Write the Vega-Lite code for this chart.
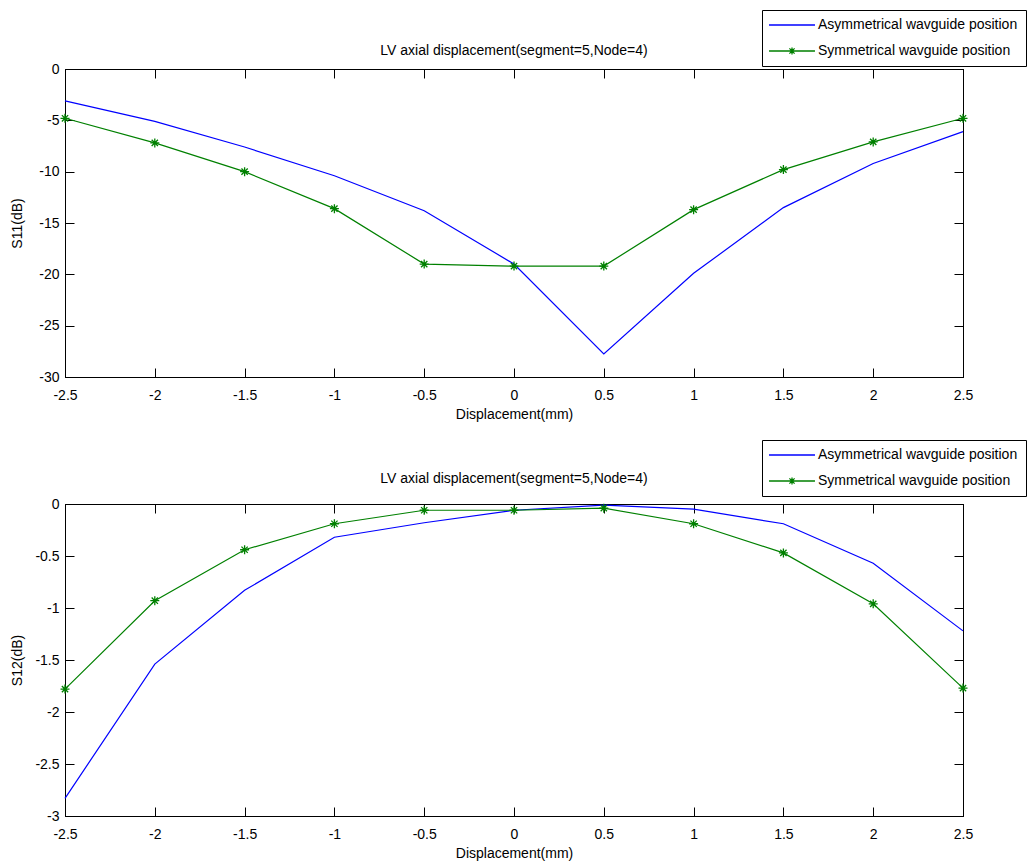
{
  "$schema": "https://vega.github.io/schema/vega-lite/v6.json",
  "padding": {"left": 10, "top": 9, "right": 0, "bottom": 0},
  "background": "white",
  "bounds": "flush",
  "spacing": 127,
  "resolve": {"scale": {"color": "independent"}, "legend": {"color": "independent"}},
  "config": {
    "font": "Liberation Sans",
    "view": {"stroke": "black", "strokeWidth": 1},
    "axis": {"grid": false, "domainColor": "black", "tickColor": "black", "labelColor": "black", "titleColor": "black", "labelFontSize": 14, "titleFontSize": 14, "titleFontWeight": "normal", "tickSize": -9, "labelFont": "Liberation Sans", "titleFont": "Liberation Sans"},
    "title": {"fontSize": 14, "fontWeight": "normal", "color": "black", "font": "Liberation Sans"},
    "legend": {"labelFontSize": 14, "labelColor": "black", "labelFont": "Liberation Sans", "labelLimit": 0}
  },
  "datasets": {
    "vals": [
      {"d": -2.5, "series": "Asymmetrical wavguide position", "S11": -3.1, "S12": -2.83},
      {"d": -2.0, "series": "Asymmetrical wavguide position", "S11": -5.1, "S12": -1.54},
      {"d": -1.5, "series": "Asymmetrical wavguide position", "S11": -7.6, "S12": -0.83},
      {"d": -1.0, "series": "Asymmetrical wavguide position", "S11": -10.4, "S12": -0.32},
      {"d": -0.5, "series": "Asymmetrical wavguide position", "S11": -13.8, "S12": -0.18},
      {"d": 0.0, "series": "Asymmetrical wavguide position", "S11": -19.0, "S12": -0.06},
      {"d": 0.5, "series": "Asymmetrical wavguide position", "S11": -27.75, "S12": -0.01},
      {"d": 1.0, "series": "Asymmetrical wavguide position", "S11": -19.9, "S12": -0.05},
      {"d": 1.5, "series": "Asymmetrical wavguide position", "S11": -13.5, "S12": -0.19},
      {"d": 2.0, "series": "Asymmetrical wavguide position", "S11": -9.2, "S12": -0.57},
      {"d": 2.5, "series": "Asymmetrical wavguide position", "S11": -6.1, "S12": -1.22},
      {"d": -2.5, "series": "Symmetrical wavguide position", "S11": -4.8, "S12": -1.78},
      {"d": -2.0, "series": "Symmetrical wavguide position", "S11": -7.2, "S12": -0.93},
      {"d": -1.5, "series": "Symmetrical wavguide position", "S11": -10.0, "S12": -0.44},
      {"d": -1.0, "series": "Symmetrical wavguide position", "S11": -13.6, "S12": -0.19},
      {"d": -0.5, "series": "Symmetrical wavguide position", "S11": -19.0, "S12": -0.06},
      {"d": 0.0, "series": "Symmetrical wavguide position", "S11": -19.2, "S12": -0.06},
      {"d": 0.5, "series": "Symmetrical wavguide position", "S11": -19.2, "S12": -0.04},
      {"d": 1.0, "series": "Symmetrical wavguide position", "S11": -13.7, "S12": -0.19},
      {"d": 1.5, "series": "Symmetrical wavguide position", "S11": -9.8, "S12": -0.47},
      {"d": 2.0, "series": "Symmetrical wavguide position", "S11": -7.1, "S12": -0.96},
      {"d": 2.5, "series": "Symmetrical wavguide position", "S11": -4.8, "S12": -1.77}
    ]
  },
  "vconcat": [
    {
      "width": 898,
      "height": 308,
      "title": {"text": "LV axial displacement(segment=5,Node=4)", "offset": -48},
      "data": {"name": "vals"},
      "resolve": {"axis": {"x": "independent", "y": "independent"}},
      "layer": [
        {
          "mark": {"type": "line", "strokeWidth": 1.2},
          "encoding": {
            "x": {"field": "d", "type": "quantitative", "scale": {"domain": [-2.5, 2.5], "nice": false},
                  "axis": {"title": "Displacement(mm)", "values": [-2.5,-2,-1.5,-1,-0.5,0,0.5,1,1.5,2,2.5], "labelExpr": "'' + datum.value", "labelPadding": 20, "titlePadding": 5, "labelFlush": false}},
            "y": {"field": "S11", "type": "quantitative", "scale": {"domain": [-30, 0], "nice": false, "zero": false},
                  "axis": {"title": "S11(dB)", "values": [0,-5,-10,-15,-20,-25,-30], "labelExpr": "'' + datum.value", "labelPadding": 15, "titlePadding": 14}},
            "color": {"field": "series", "type": "nominal",
                      "scale": {"domain": ["Asymmetrical wavguide position", "Symmetrical wavguide position"], "range": ["#0000ff", "#008000"]},
                      "legend": {"title": null, "orient": "none", "legendX": 697, "legendY": -59, "padding": 8, "fillColor": "white", "strokeColor": "black", "symbolSize": 132, "symbolStrokeWidth": 1.3, "symbolOffset": 15, "labelOffset": 19, "rowPadding": 12, "labelLimit": 0,
                                 "encode": {"symbols": {"update": {"shape": {"signal": "datum.value === 'Symmetrical wavguide position' ? 'M-4,0L4,0M0,-0.6L0,0.6M-0.45,-0.45L0.45,0.45M-0.45,0.45L0.45,-0.45' : 'M-4,0L4,0'"}}}}}}
          }
        },
        {
          "transform": [{"filter": "datum.series === 'Symmetrical wavguide position'"}],
          "mark": {"type": "point", "shape": "M-1,0L1,0M0,-1L0,1M-0.7,-0.7L0.7,0.7M-0.7,0.7L0.7,-0.7", "size": 81, "filled": false, "color": "#008000", "strokeWidth": 1.3, "opacity": 1},
          "encoding": {
            "x": {"field": "d", "type": "quantitative", "axis": {"orient": "top", "labels": false, "title": null, "values": [-2.5,-2,-1.5,-1,-0.5,0,0.5,1,1.5,2,2.5]}},
            "y": {"field": "S11", "type": "quantitative", "axis": {"orient": "right", "labels": false, "title": null, "values": [0,-5,-10,-15,-20,-25,-30]}}
          }
        }
      ]
    },
    {
      "width": 898,
      "height": 312,
      "title": {"text": "LV axial displacement(segment=5,Node=4)", "offset": -46},
      "data": {"name": "vals"},
      "resolve": {"axis": {"x": "independent", "y": "independent"}},
      "layer": [
        {
          "mark": {"type": "line", "strokeWidth": 1.2},
          "encoding": {
            "x": {"field": "d", "type": "quantitative", "scale": {"domain": [-2.5, 2.5], "nice": false},
                  "axis": {"title": "Displacement(mm)", "values": [-2.5,-2,-1.5,-1,-0.5,0,0.5,1,1.5,2,2.5], "labelExpr": "'' + datum.value", "labelPadding": 20, "titlePadding": 5, "labelFlush": false}},
            "y": {"field": "S12", "type": "quantitative", "scale": {"domain": [-3, 0], "nice": false, "zero": false},
                  "axis": {"title": "S12(dB)", "values": [0,-0.5,-1,-1.5,-2,-2.5,-3], "labelExpr": "'' + datum.value", "labelPadding": 15, "titlePadding": 10}},
            "color": {"field": "series", "type": "nominal",
                      "scale": {"domain": ["Asymmetrical wavguide position", "Symmetrical wavguide position"], "range": ["#0000ff", "#008000"]},
                      "legend": {"title": null, "orient": "none", "legendX": 697, "legendY": -64, "padding": 8, "fillColor": "white", "strokeColor": "black", "symbolSize": 132, "symbolStrokeWidth": 1.3, "symbolOffset": 15, "labelOffset": 19, "rowPadding": 12, "labelLimit": 0,
                                 "encode": {"symbols": {"update": {"shape": {"signal": "datum.value === 'Symmetrical wavguide position' ? 'M-4,0L4,0M0,-0.6L0,0.6M-0.45,-0.45L0.45,0.45M-0.45,0.45L0.45,-0.45' : 'M-4,0L4,0'"}}}}}}
          }
        },
        {
          "transform": [{"filter": "datum.series === 'Symmetrical wavguide position'"}],
          "mark": {"type": "point", "shape": "M-1,0L1,0M0,-1L0,1M-0.7,-0.7L0.7,0.7M-0.7,0.7L0.7,-0.7", "size": 81, "filled": false, "color": "#008000", "strokeWidth": 1.3, "opacity": 1},
          "encoding": {
            "x": {"field": "d", "type": "quantitative", "axis": {"orient": "top", "labels": false, "title": null, "values": [-2.5,-2,-1.5,-1,-0.5,0,0.5,1,1.5,2,2.5]}},
            "y": {"field": "S12", "type": "quantitative", "axis": {"orient": "right", "labels": false, "title": null, "values": [0,-0.5,-1,-1.5,-2,-2.5,-3]}}
          }
        }
      ]
    }
  ]
}
